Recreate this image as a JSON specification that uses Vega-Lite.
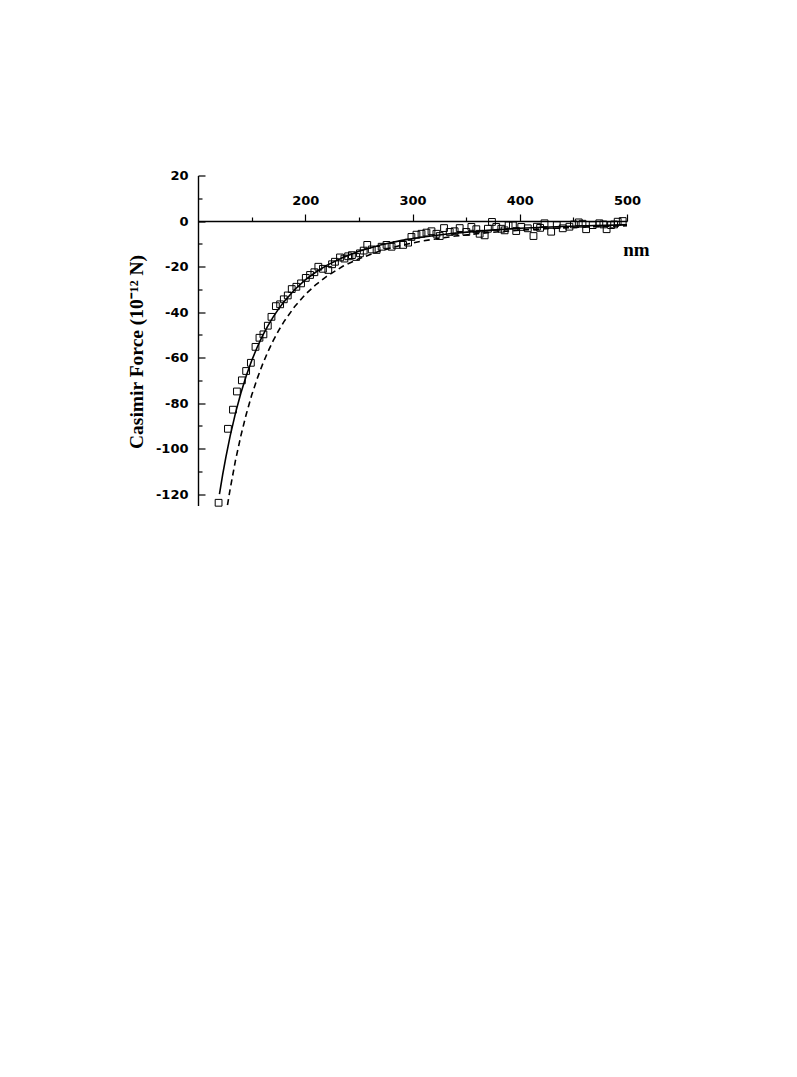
{
  "$schema": "https://vega.github.io/schema/vega-lite/v6.json",
  "autosize": {"type": "none"},
  "padding": {"left": 198, "top": 175.5, "right": 170, "bottom": 571},
  "width": 429,
  "height": 330,
  "background": "white",
  "config": {"view": {"stroke": null}, "axis": {"grid": false, "labelFlush": false, "labelOverlap": false, "domainColor": "black", "tickColor": "black", "labelColor": "black", "titleColor": "black"}},
  "datasets": {
    "solid": [
      {"d": 120, "f": -120.0}, {"d": 123, "f": -111.4}, {"d": 126, "f": -103.7}, {"d": 130, "f": -94.4},
      {"d": 135, "f": -84.3}, {"d": 140, "f": -75.6}, {"d": 145, "f": -68.0}, {"d": 150, "f": -61.4},
      {"d": 155, "f": -55.7}, {"d": 160, "f": -50.6}, {"d": 165, "f": -46.2}, {"d": 170, "f": -42.2},
      {"d": 175, "f": -38.7}, {"d": 180, "f": -35.6}, {"d": 190, "f": -30.2}, {"d": 200, "f": -25.9},
      {"d": 210, "f": -22.4}, {"d": 220, "f": -19.5}, {"d": 235, "f": -16.0}, {"d": 250, "f": -13.3},
      {"d": 270, "f": -10.5}, {"d": 290, "f": -8.5}, {"d": 310, "f": -7.0}, {"d": 340, "f": -5.3},
      {"d": 370, "f": -4.1}, {"d": 400, "f": -3.2}, {"d": 440, "f": -2.4}, {"d": 470, "f": -2.0},
      {"d": 500, "f": -1.7}
    ],
    "dashed": [
      {"d": 127.5, "f": -124.8}, {"d": 130, "f": -117.7}, {"d": 135, "f": -105.1}, {"d": 140, "f": -94.3},
      {"d": 145, "f": -84.9}, {"d": 150, "f": -76.6}, {"d": 155, "f": -69.5}, {"d": 160, "f": -63.2},
      {"d": 165, "f": -57.6}, {"d": 170, "f": -52.7}, {"d": 175, "f": -48.3}, {"d": 180, "f": -44.3},
      {"d": 190, "f": -37.7}, {"d": 200, "f": -32.3}, {"d": 210, "f": -27.9}, {"d": 220, "f": -24.3},
      {"d": 235, "f": -19.9}, {"d": 250, "f": -16.6}, {"d": 270, "f": -13.1}, {"d": 290, "f": -10.6},
      {"d": 310, "f": -8.7}, {"d": 340, "f": -6.6}, {"d": 370, "f": -5.1}, {"d": 400, "f": -4.0},
      {"d": 440, "f": -3.0}, {"d": 470, "f": -2.5}, {"d": 500, "f": -2.1}
    ],
    "measured": [
      {"d": 119.2, "f": -123.8}, {"d": 127.9, "f": -91.3}, {"d": 132.6, "f": -82.9}, {"d": 136.3, "f": -74.9},
      {"d": 140.9, "f": -70.0}, {"d": 144.9, "f": -65.9}, {"d": 149.3, "f": -62.3}, {"d": 153.6, "f": -55.3},
      {"d": 157.3, "f": -51.3}, {"d": 161.0, "f": -49.8}, {"d": 165.1, "f": -46.0}, {"d": 168.5, "f": -42.1},
      {"d": 172.6, "f": -37.4}, {"d": 176.6, "f": -36.6}, {"d": 180.0, "f": -34.4}, {"d": 183.7, "f": -32.7},
      {"d": 187.4, "f": -29.9}, {"d": 191.7, "f": -28.9}, {"d": 196.1, "f": -27.4}, {"d": 200.5, "f": -25.0},
      {"d": 204.5, "f": -23.7}, {"d": 208.5, "f": -22.5}, {"d": 212.2, "f": -20.1}, {"d": 216.5, "f": -21.0},
      {"d": 221.5, "f": -21.5}, {"d": 225.0, "f": -19.0}, {"d": 227.7, "f": -17.9}, {"d": 232.4, "f": -16.0},
      {"d": 236.5, "f": -16.5}, {"d": 240.0, "f": -15.5}, {"d": 243.5, "f": -15.0}, {"d": 247.5, "f": -15.8},
      {"d": 251.0, "f": -14.2}, {"d": 254.5, "f": -13.0}, {"d": 257.8, "f": -10.5}, {"d": 262.0, "f": -12.5},
      {"d": 266.5, "f": -12.7}, {"d": 271.2, "f": -11.3}, {"d": 275.8, "f": -10.5}, {"d": 280.5, "f": -11.3},
      {"d": 285.1, "f": -10.5}, {"d": 291.3, "f": -10.5}, {"d": 295.9, "f": -9.5}, {"d": 299.0, "f": -7.0},
      {"d": 303.7, "f": -6.0}, {"d": 308.4, "f": -5.6}, {"d": 313.0, "f": -5.1}, {"d": 317.7, "f": -4.5},
      {"d": 322.3, "f": -5.6}, {"d": 325.4, "f": -6.6}, {"d": 329.4, "f": -3.1}, {"d": 334.7, "f": -4.8},
      {"d": 339.3, "f": -4.5}, {"d": 344.0, "f": -3.1}, {"d": 350.2, "f": -4.8}, {"d": 354.9, "f": -2.6},
      {"d": 359.5, "f": -3.6}, {"d": 362.6, "f": -5.6}, {"d": 367.3, "f": -6.3}, {"d": 370.3, "f": -3.4},
      {"d": 374.1, "f": -0.4}, {"d": 378.1, "f": -2.6}, {"d": 382.8, "f": -3.4}, {"d": 385.9, "f": -4.1},
      {"d": 389.6, "f": -1.9}, {"d": 393.6, "f": -1.9}, {"d": 396.7, "f": -4.4}, {"d": 401.4, "f": -2.6},
      {"d": 407.5, "f": -3.2}, {"d": 412.8, "f": -6.6}, {"d": 416.0, "f": -2.5}, {"d": 419.0, "f": -3.0},
      {"d": 423.1, "f": -1.0}, {"d": 429.3, "f": -4.7}, {"d": 434.5, "f": -1.8}, {"d": 440.1, "f": -3.2},
      {"d": 446.3, "f": -2.5}, {"d": 450.5, "f": -1.5}, {"d": 455.0, "f": -0.6}, {"d": 458.5, "f": -1.2},
      {"d": 461.9, "f": -3.6}, {"d": 468.0, "f": -1.8}, {"d": 474.2, "f": -1.0}, {"d": 478.0, "f": -1.5},
      {"d": 481.0, "f": -3.6}, {"d": 485.1, "f": -1.8}, {"d": 488.0, "f": -1.5}, {"d": 491.3, "f": -0.3},
      {"d": 496.0, "f": 0.0}
    ]
  },
  "resolve": {"axis": {"x": "independent", "y": "independent"}},
  "layer": [
    {
      "data": {"name": "solid"},
      "mark": {"type": "line", "color": "black", "strokeWidth": 1.6, "clip": true},
      "encoding": {
        "x": {"field": "d", "type": "quantitative",
          "scale": {"domain": [100, 500], "nice": false, "zero": false},
          "axis": {"orient": "top", "offset": -45.5, "values": [200, 300, 400, 500], "tickSize": 7, "tickWidth": 1.2,
            "domainWidth": 1.4, "labelPadding": 7, "labelFont": "DejaVu Sans", "labelFontWeight": "bold", "labelFontSize": 13,
            "title": "nm", "titleFont": "Liberation Serif", "titleFontWeight": "bold", "titleFontSize": 19,
            "titleX": 438, "titleY": 34, "titleAlign": "center", "titleBaseline": "alphabetic", "titleAngle": 0}},
        "y": {"field": "f", "type": "quantitative",
          "scale": {"domain": [-125, 20], "nice": false, "zero": false},
          "axis": {"orient": "left", "values": [20, 0, -20, -40, -60, -80, -100, -120], "tickSize": -7, "tickWidth": 1.2,
            "domainWidth": 1.4, "labels": false, "title": null}}
      }
    },
    {
      "data": {"name": "dashed"},
      "mark": {"type": "line", "color": "black", "strokeWidth": 1.6, "strokeDash": [6, 4], "clip": true},
      "encoding": {
        "x": {"field": "d", "type": "quantitative",
          "axis": {"orient": "top", "offset": -45.5, "values": [150, 250, 350, 450], "tickSize": 4, "tickWidth": 1.2,
            "domain": false, "labels": false, "title": null}},
        "y": {"field": "f", "type": "quantitative",
          "axis": {"orient": "left", "values": [10, -10, -30, -50, -70, -90, -110], "tickSize": -4, "tickWidth": 1.2,
            "domain": false, "labels": false, "title": null}}
      }
    },
    {
      "data": {"name": "measured"},
      "mark": {"type": "point", "shape": "square", "filled": false, "color": "black", "size": 46, "strokeWidth": 1, "opacity": 1},
      "encoding": {
        "x": {"field": "d", "type": "quantitative", "axis": null},
        "y": {"field": "f", "type": "quantitative",
          "axis": {"orient": "left", "values": [20, 0, -20, -40, -60, -80, -100, -120], "ticks": false, "domain": false,
            "labelPadding": 10, "labelFont": "DejaVu Sans", "labelFontWeight": "bold", "labelFontSize": 13,
            "labelExpr": "replace(datum.label, '\u2212', '-')",
            "title": "Casimir Force (10⁻¹² N)", "titleFont": "Liberation Serif", "titleFontWeight": "bold", "titleFontSize": 19.5,
            "titleX": -56, "titleY": 176, "titleAlign": "center", "titleBaseline": "alphabetic", "titleAngle": -90}}
      }
    }
  ]
}
